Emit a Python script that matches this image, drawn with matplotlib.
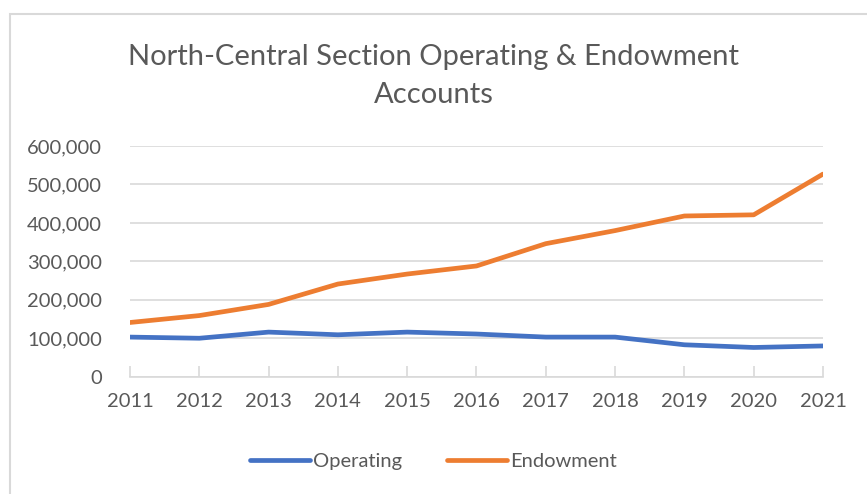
import matplotlib
matplotlib.use('Agg')
import matplotlib.pyplot as plt
from matplotlib.ticker import FuncFormatter
from matplotlib.patches import Rectangle

years = [2011, 2012, 2013, 2014, 2015, 2016, 2017, 2018, 2019, 2020, 2021]
operating = [103000, 100000, 116000, 109000, 116000, 111000, 103000, 103000, 83000, 76000, 80000]
endowment = [141000, 159000, 188000, 241000, 267000, 288000, 346000, 380000, 418000, 421000, 527000]

plt.rcParams['font.family'] = ['Lato', 'DejaVu Sans']
text_col = '#595959'
grid_col = '#d9d9d9'

fig = plt.figure(figsize=(8.67, 4.94), dpi=100)
ax = fig.add_axes([130 / 867, 1 - 376.7 / 494, 693 / 867, (376.7 - 146) / 494])

# outer chart border (runs off the right and bottom edges)
top = 1 - 14 / 494
fig.patches.append(Rectangle((10 / 867, -0.02), 1.05, top + 0.02, transform=fig.transFigure,
                             fill=False, edgecolor=grid_col, linewidth=1.5))

ax.plot(years, operating, color='#4472C4', linewidth=3.4, label='Operating', solid_capstyle='round')
ax.plot(years, endowment, color='#ED7D31', linewidth=3.4, label='Endowment', solid_capstyle='round')

ax.set_xlim(2011, 2021)
ax.set_ylim(0, 600000)
ax.set_yticks(range(0, 600001, 100000))
ax.set_xticks(years)
ax.yaxis.set_major_formatter(FuncFormatter(lambda v, p: f'{int(v):,}'))
ax.grid(axis='y', color=grid_col, linewidth=1.2)
ax.set_axisbelow(True)

for s in ['top', 'right', 'left']:
    ax.spines[s].set_visible(False)
ax.spines['bottom'].set_color(grid_col)
ax.spines['bottom'].set_linewidth(1.2)
ax.tick_params(axis='y', length=0, labelsize=14.5, labelcolor=text_col, pad=20)
ax.tick_params(axis='x', direction='in', length=8, color=grid_col, width=1.2,
               labelsize=14.5, labelcolor=text_col, pad=12)

fig.text(0.5, 1 - 76 / 494, 'North-Central Section Operating & Endowment\nAccounts',
         ha='center', va='center', fontsize=21, color=text_col, linespacing=1.55)

fig.legend(loc='center', bbox_to_anchor=(0.5, 1 - 461 / 494), ncol=2, frameon=False,
           fontsize=14.5, labelcolor=text_col, handlelength=3.0, handletextpad=0.15,
           columnspacing=2.2)

fig.savefig('out.png', dpi=100)
